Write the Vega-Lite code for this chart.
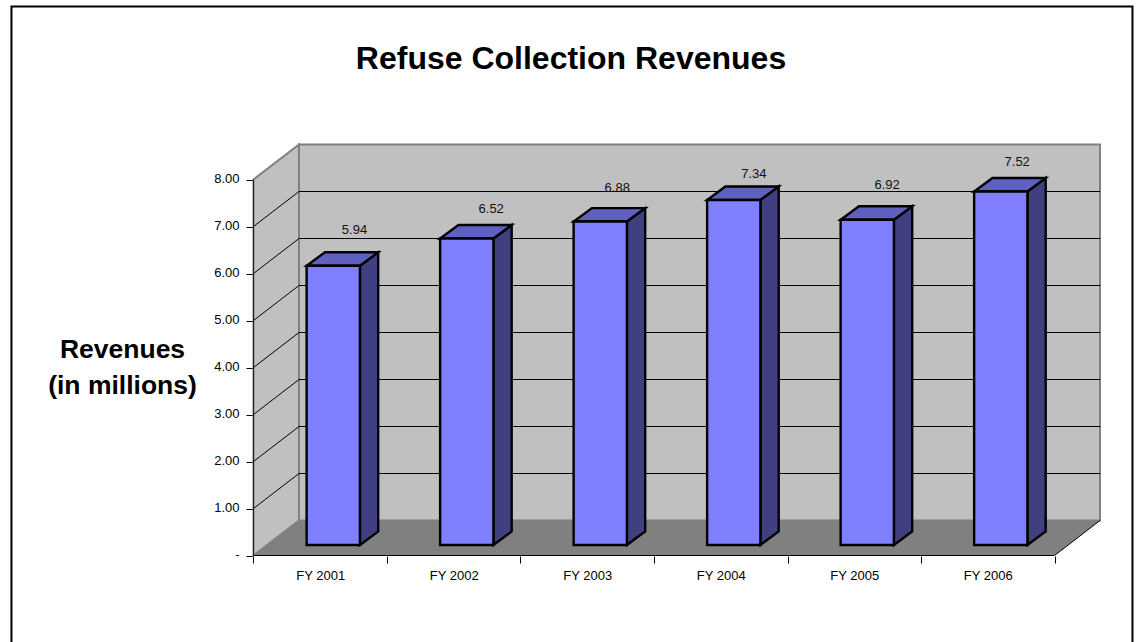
{
  "$schema": "https://vega.github.io/schema/vega-lite/v6.json",
  "background": "white",
  "autosize": "none",
  "padding": {"left": 253, "top": 145, "right": 37, "bottom": 86},
  "width": 846,
  "height": 411,
  "title": {
    "text": "Refuse Collection Revenues",
    "font": "Liberation Sans",
    "fontWeight": "bold",
    "fontSize": 32,
    "color": "black",
    "anchor": "middle",
    "dx": -105,
    "dy": 70,
    "offset": 0
  },
  "config": {"view": {"stroke": null}},
  "params": [
    {"name": "wallX", "value": 0.3408},
    {"name": "wallY", "value": 0.7447},
    {"name": "slots", "value": 6},
    {"name": "barLeft", "value": 0.398},
    {"name": "barWidth", "value": 0.399},
    {"name": "barBase", "value": 0.225},
    {"name": "sideX", "value": 0.137},
    {"name": "sideY", "value": 0.287}
  ],
  "datasets": {
    "revenues": [
      {"fy": "FY 2001", "revenue": 5.94},
      {"fy": "FY 2002", "revenue": 6.52},
      {"fy": "FY 2003", "revenue": 6.88},
      {"fy": "FY 2004", "revenue": 7.34},
      {"fy": "FY 2005", "revenue": 6.92},
      {"fy": "FY 2006", "revenue": 7.52}
    ],
    "gridValues": [
      {"v": 1}, {"v": 2}, {"v": 3}, {"v": 4}, {"v": 5}, {"v": 6}, {"v": 7}
    ],
    "one": [{"row": 1}]
  },
  "resolve": {"axis": {"x": "independent", "y": "independent"}},
  "layer": [
    {
      "description": "Left wall, carrying the value axis and the tick marks of the category axis",
      "data": {"values": [{"corner": 0}, {"corner": 1}]},
      "transform": [
        {"calculate": "datum.corner * wallX", "as": "px"},
        {"calculate": "datum.corner * wallY", "as": "lo"},
        {"calculate": "8 + datum.corner * wallY", "as": "hi"}
      ],
      "mark": {"type": "area", "orient": "vertical", "fill": "#c0c0c0", "stroke": "#808080", "strokeWidth": 2},
      "encoding": {
        "x": {
          "field": "px", "type": "quantitative",
          "scale": {"domain": [-0.0037, 6.3333], "nice": false, "zero": false},
          "axis": {
            "orient": "bottom",
            "title": null, "domain": false, "grid": false, "labels": false,
            "values": [0, 1, 2, 3, 4, 5, 6],
            "tickColor": "black", "tickSize": 7, "tickWidth": 1
          }
        },
        "y": {
          "field": "lo", "type": "quantitative",
          "scale": {"domain": [-0.0106, 8.7341], "nice": false, "zero": false},
          "axis": {
            "orient": "left",
            "title": ["Revenues", "(in millions)"],
            "titleFont": "Liberation Sans", "titleFontWeight": "bold", "titleFontSize": 26.5,
            "titleColor": "black", "titleAngle": 0, "titleAlign": "center", "titleBaseline": "middle",
            "titleX": -131, "titleY": 204, "titleLineHeight": 36,
            "domain": false, "grid": false,
            "values": [0, 1, 2, 3, 4, 5, 6, 7, 8],
            "labelExpr": "datum.value === 0 ? '-    ' : format(datum.value, '.2f')",
            "labelFont": "Liberation Sans", "labelFontSize": 13, "labelColor": "black", "labelPadding": 7, "labelOffset": -1,
            "tickColor": "black", "tickSize": 7, "tickWidth": 1
          }
        },
        "y2": {"field": "hi"}
      }
    },
    {
      "description": "Back wall",
      "data": {"name": "one"},
      "transform": [
        {"calculate": "wallX", "as": "x0"},
        {"calculate": "slots + wallX", "as": "x1"},
        {"calculate": "wallY", "as": "y0"},
        {"calculate": "8 + wallY", "as": "y1"}
      ],
      "mark": {"type": "rect", "fill": "#c0c0c0", "stroke": "#808080", "strokeWidth": 2},
      "encoding": {
        "x": {"field": "x0", "type": "quantitative", "axis": null},
        "x2": {"field": "x1"},
        "y": {"field": "y0", "type": "quantitative", "axis": null},
        "y2": {"field": "y1"}
      }
    },
    {
      "description": "Floor",
      "data": {"values": [{"corner": 0}, {"corner": 1}, {"corner": 2}, {"corner": 3}]},
      "transform": [
        {"calculate": "[0, wallX, slots, slots + wallX][datum.corner]", "as": "px"},
        {"calculate": "[0, 0, 0, wallY][datum.corner]", "as": "lo"},
        {"calculate": "[0, wallY, wallY, wallY][datum.corner]", "as": "hi"}
      ],
      "mark": {"type": "area", "orient": "vertical", "fill": "#808080"},
      "encoding": {
        "x": {"field": "px", "type": "quantitative", "axis": null},
        "y": {"field": "lo", "type": "quantitative", "axis": null},
        "y2": {"field": "hi"}
      }
    },
    {
      "description": "Gridlines on the back wall",
      "data": {"name": "gridValues"},
      "transform": [
        {"calculate": "datum.v + wallY", "as": "gy"},
        {"calculate": "wallX", "as": "x0"},
        {"calculate": "slots + wallX", "as": "x1"}
      ],
      "mark": {"type": "rule", "color": "black", "strokeWidth": 1},
      "encoding": {
        "x": {"field": "x0", "type": "quantitative", "axis": null},
        "x2": {"field": "x1"},
        "y": {"field": "gy", "type": "quantitative", "axis": null}
      }
    },
    {
      "description": "Gridlines running up the left wall",
      "data": {"name": "gridValues"},
      "transform": [
        {"calculate": "datum.v + wallY", "as": "gy"},
        {"calculate": "0", "as": "x0"},
        {"calculate": "wallX", "as": "x1"}
      ],
      "mark": {"type": "rule", "color": "black", "strokeWidth": 1},
      "encoding": {
        "x": {"field": "x0", "type": "quantitative", "axis": null},
        "x2": {"field": "x1"},
        "y": {"field": "v", "type": "quantitative", "axis": null},
        "y2": {"field": "gy"}
      }
    },
    {
      "description": "Value axis line",
      "data": {"name": "one"},
      "transform": [
        {"calculate": "0", "as": "x0"},
        {"calculate": "0", "as": "y0"},
        {"calculate": "8", "as": "y1"}
      ],
      "mark": {"type": "rule", "color": "#202020", "strokeWidth": 1},
      "encoding": {
        "x": {"field": "x0", "type": "quantitative", "axis": null},
        "y": {"field": "y0", "type": "quantitative", "axis": null},
        "y2": {"field": "y1"}
      }
    },
    {
      "description": "Front edge of the floor",
      "data": {"name": "one"},
      "transform": [
        {"calculate": "0", "as": "x0"},
        {"calculate": "slots", "as": "x1"},
        {"calculate": "0", "as": "y0"}
      ],
      "mark": {"type": "rule", "color": "black", "strokeWidth": 1},
      "encoding": {
        "x": {"field": "x0", "type": "quantitative", "axis": null},
        "x2": {"field": "x1"},
        "y": {"field": "y0", "type": "quantitative", "axis": null}
      }
    },
    {
      "description": "Right edge of the floor",
      "data": {"name": "one"},
      "transform": [
        {"calculate": "slots", "as": "x0"},
        {"calculate": "slots + wallX", "as": "x1"},
        {"calculate": "0", "as": "y0"},
        {"calculate": "wallY", "as": "y1"}
      ],
      "mark": {"type": "rule", "color": "black", "strokeWidth": 1},
      "encoding": {
        "x": {"field": "x0", "type": "quantitative", "axis": null},
        "x2": {"field": "x1"},
        "y": {"field": "y0", "type": "quantitative", "axis": null},
        "y2": {"field": "y1"}
      }
    },
    {
      "description": "Right side of each bar",
      "data": {"name": "revenues"},
      "transform": [
        {"calculate": "toNumber(substring(datum.fy, 3)) - 2001", "as": "slot"},
        {"calculate": "[0, 1]", "as": "corner"},
        {"flatten": ["corner"]},
        {"calculate": "datum.slot + barLeft + barWidth + datum.corner * sideX", "as": "px"},
        {"calculate": "barBase + datum.corner * sideY", "as": "lo"},
        {"calculate": "barBase + datum.revenue + datum.corner * sideY", "as": "hi"}
      ],
      "mark": {"type": "area", "orient": "vertical", "fill": "#404080", "stroke": "black", "strokeWidth": 2.4, "strokeJoin": "miter"},
      "encoding": {
        "x": {"field": "px", "type": "quantitative", "axis": null},
        "y": {"field": "lo", "type": "quantitative", "axis": null},
        "y2": {"field": "hi"},
        "detail": {"field": "fy"}
      }
    },
    {
      "description": "Top of each bar",
      "data": {"name": "revenues"},
      "transform": [
        {"calculate": "toNumber(substring(datum.fy, 3)) - 2001", "as": "slot"},
        {"calculate": "[0, 1, 2, 3]", "as": "corner"},
        {"flatten": ["corner"]},
        {"calculate": "datum.slot + barLeft + [0, sideX, barWidth, barWidth + sideX][datum.corner]", "as": "px"},
        {"calculate": "barBase + datum.revenue + [0, 0, 0, sideY][datum.corner]", "as": "lo"},
        {"calculate": "barBase + datum.revenue + [0, sideY, sideY, sideY][datum.corner]", "as": "hi"}
      ],
      "mark": {"type": "area", "orient": "vertical", "fill": "#6060c0", "stroke": "black", "strokeWidth": 2.4, "strokeJoin": "miter"},
      "encoding": {
        "x": {"field": "px", "type": "quantitative", "axis": null},
        "y": {"field": "lo", "type": "quantitative", "axis": null},
        "y2": {"field": "hi"},
        "detail": {"field": "fy"}
      }
    },
    {
      "description": "Front of each bar",
      "data": {"name": "revenues"},
      "transform": [
        {"calculate": "toNumber(substring(datum.fy, 3)) - 2001", "as": "slot"},
        {"calculate": "datum.slot + barLeft", "as": "x0"},
        {"calculate": "datum.slot + barLeft + barWidth", "as": "x1"},
        {"calculate": "barBase", "as": "base"},
        {"calculate": "barBase + datum.revenue", "as": "top"}
      ],
      "mark": {"type": "rect", "fill": "#8080ff", "stroke": "black", "strokeWidth": 2.4},
      "encoding": {
        "x": {"field": "x0", "type": "quantitative", "axis": null},
        "x2": {"field": "x1"},
        "y": {"field": "base", "type": "quantitative", "axis": null},
        "y2": {"field": "top"}
      }
    },
    {
      "description": "Value label above each bar, nudged off the gridlines per bar; this layer also carries the category labels",
      "data": {"name": "revenues"},
      "transform": [
        {"calculate": "toNumber(substring(datum.fy, 3)) - 2001", "as": "slot"},
        {"calculate": "datum.slot + barLeft + barWidth / 2 + 0.159 + [0, 0.024, -0.032, -0.009, -0.010, -0.036][datum.slot]", "as": "lx"},
        {"calculate": "barBase + datum.revenue + 0.766 + [0, -0.134, -0.049, -0.211, -0.023, -0.143][datum.slot]", "as": "ly"}
      ],
      "mark": {"type": "text", "font": "Liberation Sans", "fontSize": 13, "color": "#111111", "baseline": "middle", "align": "center"},
      "encoding": {
        "x": {
          "field": "lx", "type": "quantitative",
          "axis": {
            "orient": "bottom",
            "title": null, "domain": false, "grid": false, "ticks": false,
            "values": [0.5, 1.5, 2.5, 3.5, 4.5, 5.5],
            "labelExpr": "'FY ' + (2000.5 + datum.value)",
            "labelFont": "Liberation Sans", "labelFontSize": 13, "labelColor": "black", "labelPadding": 13,
            "labelFlush": false, "labelOverlap": false
          }
        },
        "y": {"field": "ly", "type": "quantitative", "axis": null},
        "text": {"field": "revenue", "type": "quantitative", "format": ".2f"}
      }
    },
    {
      "description": "Frame round the chart, open past the lower edge of the window",
      "data": {"name": "one"},
      "transform": [
        {"calculate": "-1.813", "as": "x0"},
        {"calculate": "6.584", "as": "x1"},
        {"calculate": "-2.2", "as": "y0"},
        {"calculate": "11.68", "as": "y1"}
      ],
      "mark": {"type": "rect", "fill": null, "stroke": "black", "strokeWidth": 2},
      "encoding": {
        "x": {"field": "x0", "type": "quantitative", "axis": null},
        "x2": {"field": "x1"},
        "y": {"field": "y0", "type": "quantitative", "axis": null},
        "y2": {"field": "y1"}
      }
    }
  ]
}
